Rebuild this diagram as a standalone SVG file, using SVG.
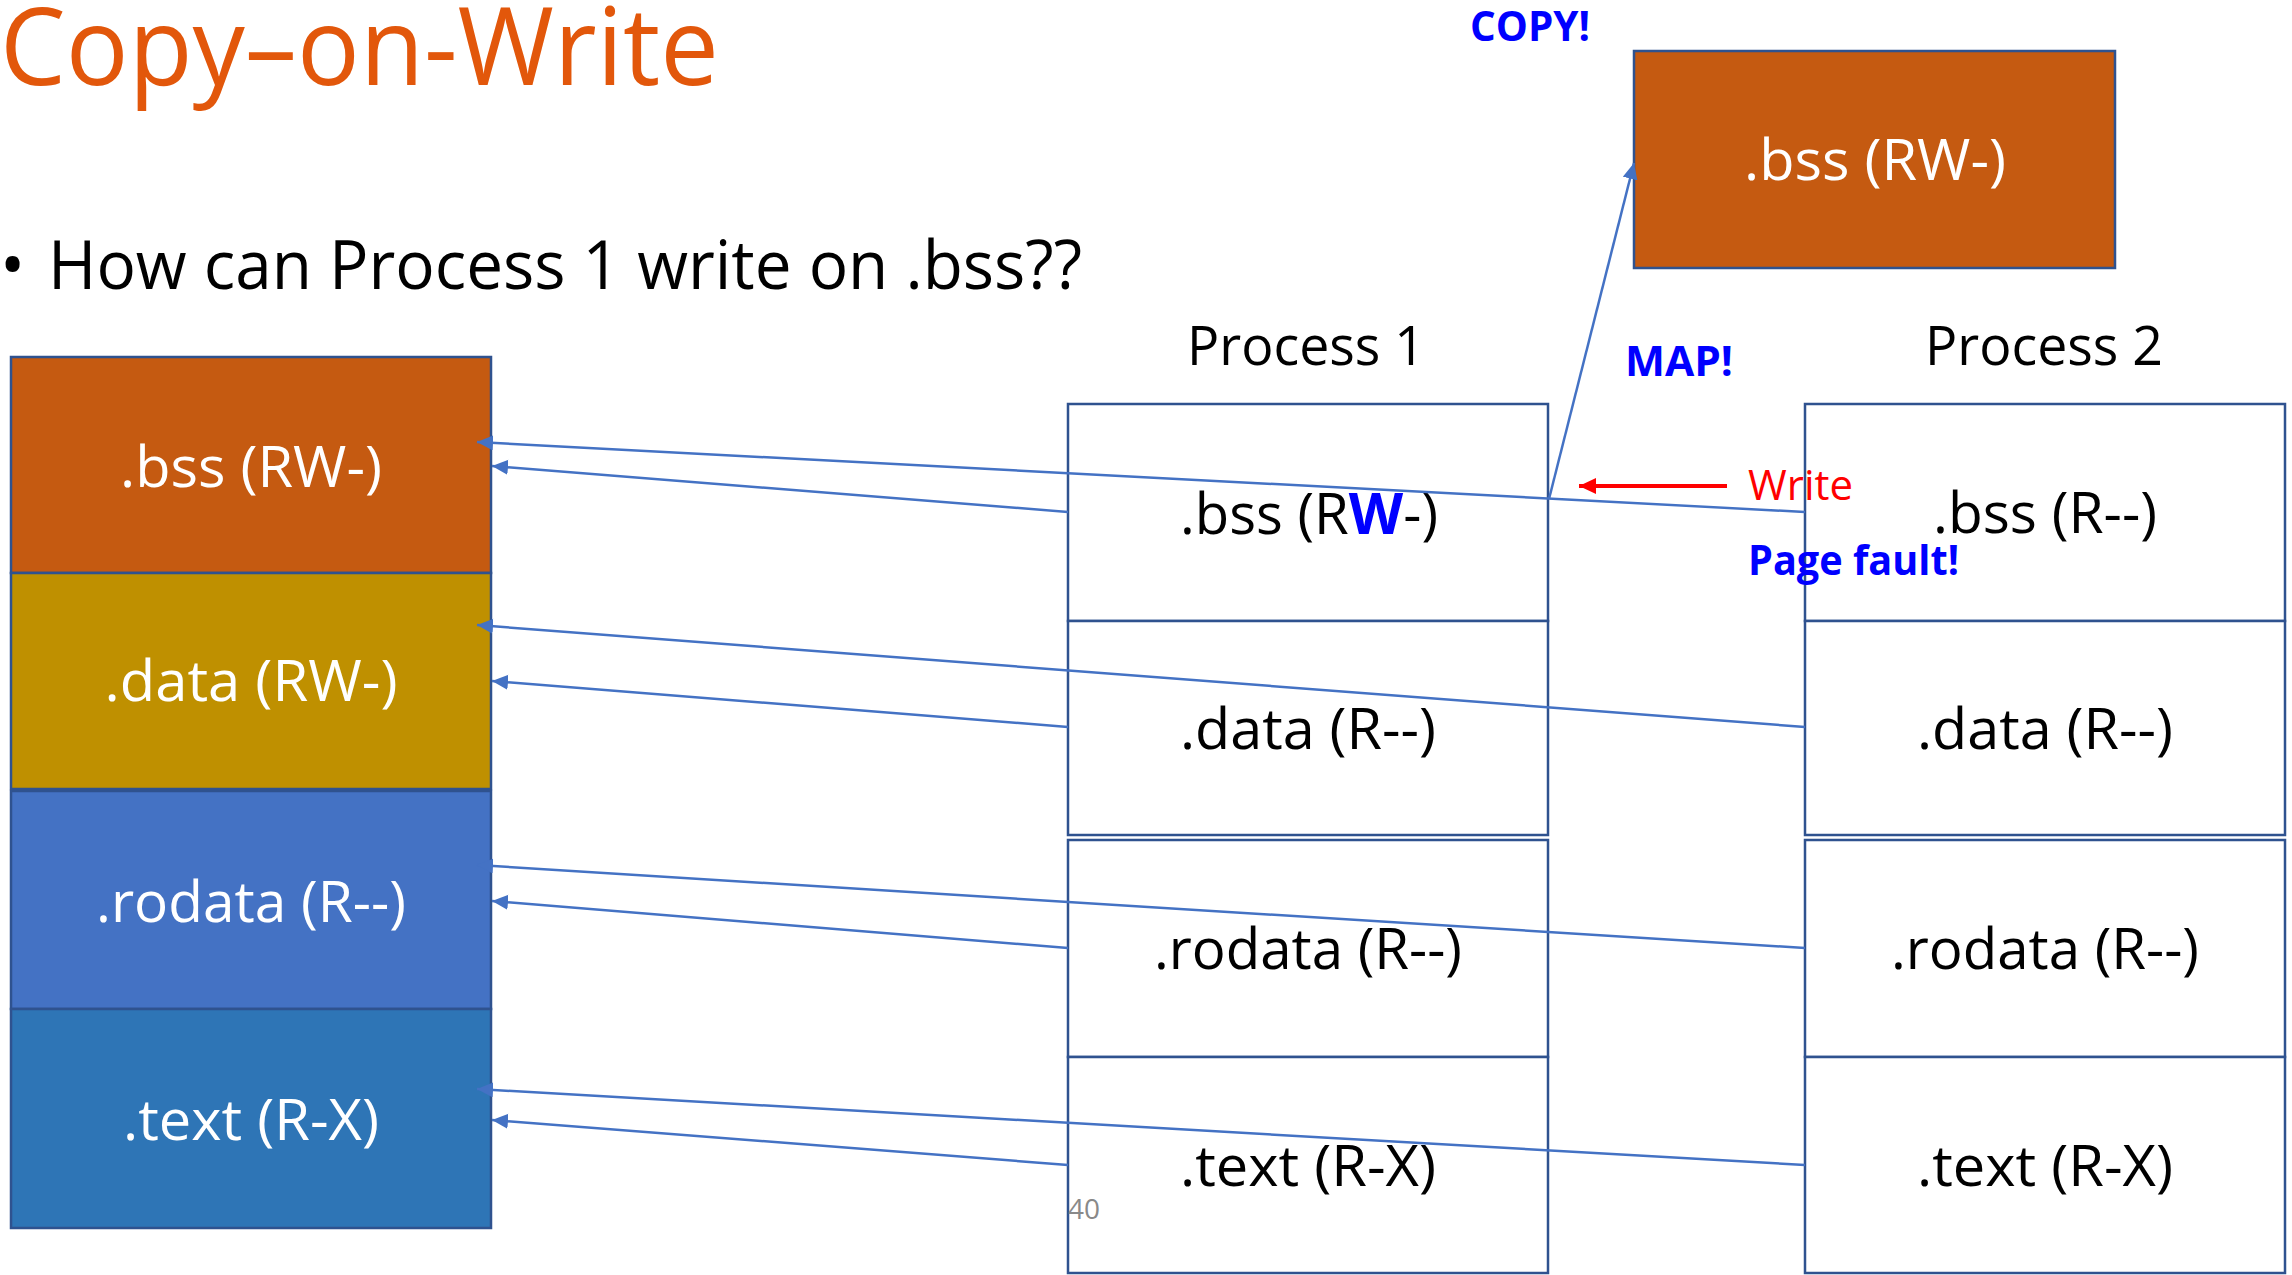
<svg xmlns="http://www.w3.org/2000/svg" width="2292" height="1275" viewBox="0 0 2292 1275">
  <defs>
    <style>
      text { font-family: "Open Sans", "Liberation Sans", sans-serif; }
      .seg { stroke: #2F528F; stroke-width: 2.5; }
      .pbox { fill: #FFFFFF; stroke: #2F528F; stroke-width: 2.5; }
      .lbl { font-size: 57px; text-anchor: middle; }
      .white { fill: #FFFFFF; }
      .black { fill: #000000; }
      .hdr { font-size: 54px; text-anchor: middle; fill: #000000; }
      .note { font-size: 41px; font-weight: bold; fill: #0000FF; }
      .link { stroke: #4472C4; stroke-width: 2.5; fill: none; marker-end: url(#blueHead); }
    </style>
    <marker id="blueHead" markerUnits="userSpaceOnUse" markerWidth="16" markerHeight="16" refX="16" refY="7.5" orient="auto">
      <path d="M0,0 L16,7.5 L0,15 Z" fill="#4472C4"/>
    </marker>
    <marker id="redHead" markerUnits="userSpaceOnUse" markerWidth="18" markerHeight="18" refX="17" refY="8" orient="auto">
      <path d="M0,0 L17,8 L0,16 Z" fill="#FF0000"/>
    </marker>
  </defs>

  <rect x="0" y="0" width="2292" height="1275" fill="#FFFFFF"/>

  <!-- slide title and question -->
  <text x="0" y="85" font-size="108" fill="#E2570B" textLength="719" lengthAdjust="spacingAndGlyphs">Copy–on-Write</text>
  <text x="0" y="289" font-size="67" fill="#000000">•</text>
  <text x="48" y="289" font-size="67" fill="#000000" textLength="1034" lengthAdjust="spacingAndGlyphs">How can Process 1 write on .bss??</text>

  <!-- physical memory sections -->
  <g id="mem-bss">
    <rect class="seg" x="11" y="357" width="480" height="216" fill="#C55A11"/>
    <text class="lbl white" x="251" y="487" textLength="262" lengthAdjust="spacingAndGlyphs">.bss (RW-)</text>
  </g>
  <g id="mem-data">
    <rect class="seg" x="11" y="573" width="480" height="216" fill="#BF9000"/>
    <text class="lbl white" x="251" y="701" textLength="293" lengthAdjust="spacingAndGlyphs">.data (RW-)</text>
  </g>
  <g id="mem-rodata">
    <rect class="seg" x="11" y="791" width="480" height="218" fill="#4472C4"/>
    <text class="lbl white" x="251" y="922" textLength="310" lengthAdjust="spacingAndGlyphs">.rodata (R--)</text>
  </g>
  <g id="mem-text">
    <rect class="seg" x="11" y="1009" width="480" height="219" fill="#2E75B6"/>
    <text class="lbl white" x="251" y="1140" textLength="256" lengthAdjust="spacingAndGlyphs">.text (R-X)</text>
  </g>

  <!-- copied page -->
  <g id="copy-bss">
    <rect class="seg" x="1634" y="51" width="481" height="217" fill="#C55A11"/>
    <text class="lbl white" x="1875" y="180" textLength="262" lengthAdjust="spacingAndGlyphs">.bss (RW-)</text>
  </g>

  <!-- process 1 address space -->
  <g id="p1">
    <text class="hdr" x="1306" y="365" textLength="238" lengthAdjust="spacingAndGlyphs">Process 1</text>
    <g id="p1-bss">
      <rect class="pbox" x="1068" y="404" width="480" height="217"/>
      <text class="lbl black" x="1309" y="534" textLength="258" lengthAdjust="spacingAndGlyphs">.bss (R<tspan fill="#0000FF" font-weight="bold">W</tspan>-)</text>
    </g>
    <g id="p1-data">
      <rect class="pbox" x="1068" y="621" width="480" height="214"/>
      <text class="lbl black" x="1308" y="749" textLength="256" lengthAdjust="spacingAndGlyphs">.data (R--)</text>
    </g>
    <g id="p1-rodata">
      <rect class="pbox" x="1068" y="840" width="480" height="217"/>
      <text class="lbl black" x="1308" y="969" textLength="308" lengthAdjust="spacingAndGlyphs">.rodata (R--)</text>
    </g>
    <g id="p1-text">
      <rect class="pbox" x="1068" y="1057" width="480" height="216"/>
      <text class="lbl black" x="1308" y="1186" textLength="256" lengthAdjust="spacingAndGlyphs">.text (R-X)</text>
    </g>
  </g>

  <!-- process 2 address space -->
  <g id="p2">
    <text class="hdr" x="2044" y="365" textLength="238" lengthAdjust="spacingAndGlyphs">Process 2</text>
    <g id="p2-bss">
      <rect class="pbox" x="1805" y="404" width="480" height="217"/>
      <text class="lbl black" x="2045" y="533" textLength="224" lengthAdjust="spacingAndGlyphs">.bss (R--)</text>
    </g>
    <g id="p2-data">
      <rect class="pbox" x="1805" y="621" width="480" height="214"/>
      <text class="lbl black" x="2045" y="749" textLength="256" lengthAdjust="spacingAndGlyphs">.data (R--)</text>
    </g>
    <g id="p2-rodata">
      <rect class="pbox" x="1805" y="840" width="480" height="217"/>
      <text class="lbl black" x="2045" y="969" textLength="308" lengthAdjust="spacingAndGlyphs">.rodata (R--)</text>
    </g>
    <g id="p2-text">
      <rect class="pbox" x="1805" y="1057" width="480" height="216"/>
      <text class="lbl black" x="2045" y="1186" textLength="256" lengthAdjust="spacingAndGlyphs">.text (R-X)</text>
    </g>
  </g>

  <!-- page mappings -->
  <g id="connectors">
    <line class="link" x1="1805" y1="512" x2="477" y2="442"/>
    <line class="link" x1="1068" y1="512" x2="492" y2="466"/>
    <line class="link" x1="1805" y1="727" x2="477" y2="625"/>
    <line class="link" x1="1068" y1="727" x2="492" y2="681"/>
    <line class="link" x1="1805" y1="948" x2="477" y2="865"/>
    <line class="link" x1="1068" y1="948" x2="492" y2="901"/>
    <line class="link" x1="1805" y1="1165" x2="477" y2="1089"/>
    <line class="link" x1="1068" y1="1165" x2="492" y2="1120"/>
    <line class="link" x1="1549" y1="499" x2="1634" y2="163"/>
    <line x1="1727" y1="486" x2="1579" y2="486" stroke="#FF0000" stroke-width="4" marker-end="url(#redHead)"/>
  </g>

  <!-- annotations -->
  <text class="note" x="1470" y="41" textLength="120" lengthAdjust="spacingAndGlyphs">COPY!</text>
  <text class="note" x="1625" y="376" textLength="108" lengthAdjust="spacingAndGlyphs">MAP!</text>
  <text x="1748" y="500" font-size="42" fill="#FF0000" textLength="105" lengthAdjust="spacingAndGlyphs">Write</text>
  <text class="note" x="1748" y="575" textLength="211" lengthAdjust="spacingAndGlyphs">Page fault!</text>
  <text x="1068" y="1219" font-size="28" fill="#898989" textLength="32" lengthAdjust="spacingAndGlyphs">40</text>
</svg>
